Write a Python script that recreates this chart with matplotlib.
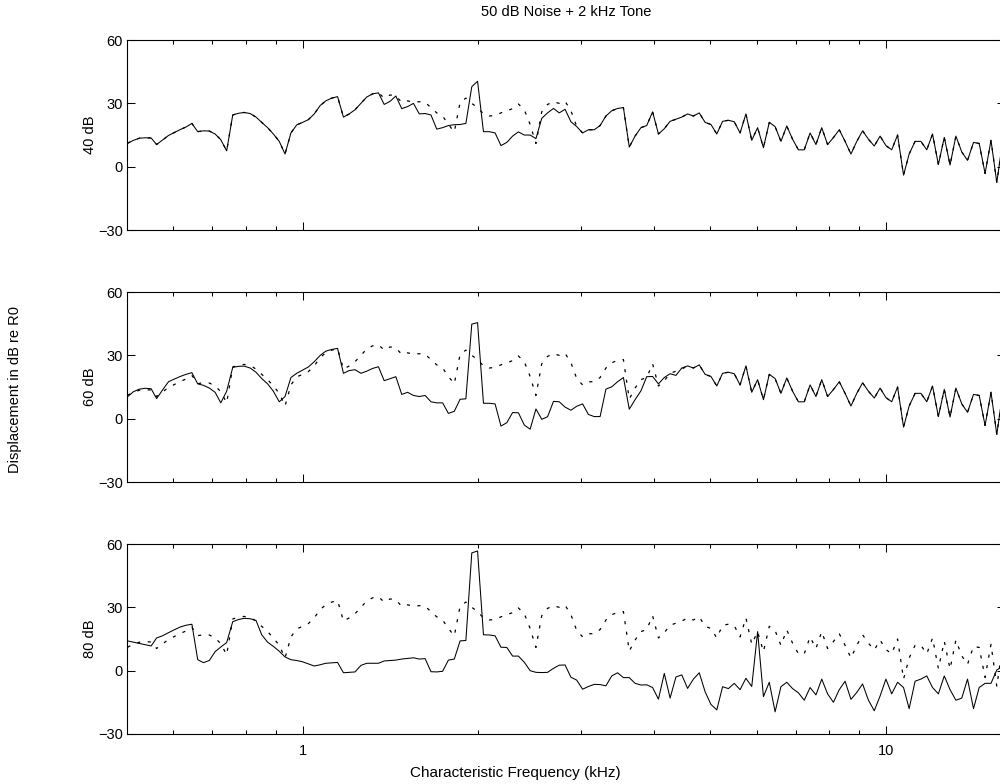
import matplotlib
matplotlib.use('Agg')
import matplotlib.pyplot as plt
from matplotlib.ticker import FixedLocator, NullFormatter

plt.rcParams['font.family'] = ['Liberation Sans', 'DejaVu Sans']
plt.rcParams['font.size'] = 10.5

# -----------------------------------------------------------------
# Donnees (CF en kHz, deplacement en dB re R0)
# -----------------------------------------------------------------
cf = [0.501, 0.513, 0.525, 0.537, 0.550, 0.562, 0.575, 0.589, 0.603, 0.617,
      0.631, 0.646, 0.661, 0.676, 0.692, 0.708, 0.724, 0.741, 0.759, 0.776,
      0.794, 0.813, 0.832, 0.851, 0.871, 0.891, 0.912, 0.933, 0.955, 0.977,
      1.000, 1.023, 1.047, 1.072, 1.096, 1.122, 1.148, 1.175, 1.202, 1.230,
      1.259, 1.288, 1.318, 1.349, 1.380, 1.413, 1.445, 1.479, 1.514, 1.549,
      1.585, 1.622, 1.660, 1.698, 1.738, 1.778, 1.820, 1.862, 1.905, 1.950,
      1.995, 2.042, 2.089, 2.138, 2.188, 2.239, 2.291, 2.344, 2.399, 2.455,
      2.512, 2.570, 2.630, 2.692, 2.754, 2.818, 2.884, 2.951, 3.020, 3.090,
      3.162, 3.236, 3.311, 3.388, 3.467, 3.548, 3.631, 3.715, 3.802, 3.890,
      3.981, 4.074, 4.169, 4.266, 4.365, 4.467, 4.571, 4.677, 4.786, 4.898,
      5.012, 5.129, 5.248, 5.370, 5.495, 5.623, 5.754, 5.888, 6.026, 6.166,
      6.310, 6.457, 6.607, 6.761, 6.918, 7.079, 7.244, 7.413, 7.586, 7.762,
      7.943, 8.128, 8.318, 8.511, 8.710, 8.913, 9.120, 9.333, 9.550, 9.772,
      10.00, 10.23, 10.47, 10.72, 10.96, 11.22, 11.48, 11.75, 12.02, 12.30,
      12.59, 12.88, 13.18, 13.49, 13.80, 14.13, 14.45, 14.79, 15.14, 15.49,
      15.85]

# bruit seul (trait pointille, identique dans les 3 panneaux)
noise = [11.1, 12.5, 13.5, 13.7, 13.6, 10.5, 12.6, 14.8, 16.2, 17.6,
         18.8, 20.5, 16.6, 17.0, 16.9, 15.5, 12.8, 7.5, 24.5, 25.3,
         25.7, 25.2, 23.5, 21.0, 18.5, 15.5, 12.0, 6.0, 16.0, 19.8,
         21.0, 22.3, 25.0, 29.0, 31.2, 32.5, 33.2, 23.5, 25.0, 27.0,
         30.0, 33.0, 34.5, 35.0, 32.5, 34.0, 33.5, 30.5, 31.2, 30.5,
         30.8, 30.5, 28.0, 25.5, 24.0, 20.0, 16.5, 30.5, 32.5, 30.0,
         28.0, 25.0, 24.0, 24.3, 25.5, 26.5, 27.5, 29.7, 27.0, 20.0,
         11.0, 26.0, 29.5, 30.8, 30.0, 31.0, 26.5, 19.0, 16.0, 17.5,
         17.5, 19.5, 24.0, 26.5, 27.6, 28.0, 9.3, 14.5, 18.5, 19.5,
         26.0, 15.5, 18.0, 21.5, 22.5, 23.5, 25.0, 24.0, 25.5, 21.0,
         20.0, 15.5, 21.5, 22.0, 21.3, 16.0, 25.0, 12.5, 18.5, 9.0,
         21.0, 19.0, 12.0, 19.3, 13.0, 8.0, 8.0, 16.0, 10.5, 18.5,
         10.5, 13.8, 17.5, 12.0, 6.0, 12.0, 17.0, 13.0, 9.8, 14.5,
         10.0, 8.0, 15.0, -4.0, 6.0, 12.0, 12.0, 8.0, 15.5, 1.0,
         13.9, 0.8, 14.5, 7.0, 3.0, 11.5, 11.0, -3.2, 12.5, -7.5,
         12.0]

# bruit + ton 40 dB : ne differe du bruit seul qu'entre ~1.4 et ~2.9 kHz
tone40_mid = [29.5, 31.0, 33.5, 27.5, 28.5, 30.0, 25.0, 25.2, 24.5, 17.8,
              18.5, 19.5, 19.9, 20.0, 20.5, 37.9, 40.5, 16.6, 16.6, 16.0,
              10.0, 11.5, 14.5, 16.5, 15.0, 15.0, 13.3, 22.9, 25.5, 27.6,
              25.5, 27.2, 21.3]
tone40 = noise[:44] + tone40_mid + noise[77:]

# bruit + ton 60 dB : rejoint le bruit seul au-dessus de ~4.5 kHz
tone60_low = [10.4, 12.8, 14.0, 14.4, 14.2, 9.5, 13.5, 17.5, 18.8, 20.0,
              21.0, 21.8, 16.5, 15.8, 14.5, 12.5, 7.5, 13.0, 24.3, 24.8,
              24.9, 24.0, 22.0, 19.0, 16.5, 13.0, 8.0, 10.5, 19.5, 21.5,
              23.0, 24.5, 27.0, 30.0, 32.0, 32.8, 33.3, 21.5, 22.8, 23.2,
              21.5, 22.5, 23.8, 24.6, 18.0, 19.0, 19.9, 11.5, 12.5, 11.0,
              10.5, 11.0, 8.0, 7.5, 7.5, 2.5, 3.5, 9.2, 9.4, 44.8,
              45.5, 7.3, 7.3, 7.0, -3.5, -1.9, 2.9, 2.8, -3.0, -5.0,
              4.6, -0.3, 0.9, 8.2, 8.0, 5.5, 4.0, 5.9, 7.0, 2.0,
              1.0, 1.0, 14.0, 15.1, 17.5, 19.5, 4.5, 9.0, 13.2, 19.9,
              20.0, 16.5, 19.5, 21.3, 20.5, 24.0]
tone60 = tone60_low + noise[96:]

# bruit + ton 80 dB
tone80 = [14.1, 13.5, 12.9, 12.3, 11.7, 15.5, 16.5, 18.0, 19.4, 20.7,
          21.5, 22.0, 5.2, 3.8, 4.8, 9.0, 11.2, 13.3, 23.2, 24.2,
          24.8, 24.6, 23.8, 17.0, 13.5, 11.5, 9.2, 6.5, 5.2, 4.8,
          4.2, 3.2, 2.2, 2.8, 3.5, 3.7, 3.9, -1.0, -0.8, -0.6,
          2.5, 3.5, 3.5, 3.5, 4.6, 4.8, 5.0, 5.5, 5.8, 6.1,
          5.5, 5.7, -0.5, -0.6, -0.3, 5.0, 5.5, 14.1, 14.3, 55.8,
          56.7, 17.0, 16.9, 16.5, 11.1, 11.0, 6.9, 6.9, 4.0, 0.0,
          -0.8, -0.9, -0.8, 1.1, 2.6, 2.7, -3.1, -4.5, -8.8, -7.5,
          -6.5, -6.6, -7.2, -2.5, -1.0, -3.3, -3.3, -6.0, -6.8, -6.7,
          -8.0, -13.5, -1.3, -13.0, -3.0, -2.0, -8.4, -4.0, -1.0, -10.0,
          -16.0, -18.6, -7.6, -8.5, -6.0, -9.0, -3.6, -7.5, 18.5, -12.3,
          -5.5, -19.5, -7.6, -5.5, -8.5, -10.5, -14.0, -8.0, -11.5, -4.0,
          -11.0, -15.0, -9.0, -5.0, -13.6, -10.3, -6.3, -14.0, -19.0, -12.0,
          -4.0, -11.0, -5.5, -8.0, -18.0, -5.0, -4.0, -2.5, -8.0, -11.0,
          -2.5, -9.0, -14.0, -13.0, -4.0, -18.0, -8.0, -6.0, -6.0, 0.3,
          2.0]

panel_labels = ['40 dB', '60 dB', '80 dB']
y_ticks = [-30, 0, 30, 60]
x_major = [1, 10]
x_minor = [0.6, 0.7, 0.8, 0.9, 2, 3, 4, 5, 6, 7, 8, 9]

# -----------------------------------------------------------------
# Figure
# -----------------------------------------------------------------
fig = plt.figure(figsize=(10, 7.84), dpi=100)
bottoms = [0.7066, 0.3852, 0.0638]

for k, (solid, lab, bottom) in enumerate(zip([tone40, tone60, tone80],
                                             panel_labels, bottoms)):
    ax = fig.add_axes([0.127, bottom, 0.878, 0.2423])
    # pointille facon MATLAB ':' : petits traits espaces
    ax.semilogx(cf, noise, color='k', lw=0.9, linestyle=(0, (2.5, 6)))
    ax.semilogx(cf, solid, color='k', lw=0.75)
    ax.set_xlim(0.5, 16)
    ax.set_ylim(-30, 60)
    ax.set_yticks(y_ticks)
    ax.xaxis.set_major_locator(FixedLocator(x_major))
    ax.xaxis.set_minor_locator(FixedLocator(x_minor))
    ax.xaxis.set_minor_formatter(NullFormatter())
    ax.set_xticklabels(['1', '10'])
    ax.tick_params(which='both', direction='in', top=True, right=True)
    ax.tick_params(which='major', length=6, width=0.75)
    ax.tick_params(which='minor', length=3, width=0.75)
    ax.tick_params(axis='y', pad=3)
    ax.tick_params(axis='x', pad=7)
    if k < 2:
        ax.tick_params(axis='x', labelbottom=False)
    for sp in ax.spines.values():
        sp.set_linewidth(0.8)
    ax.set_ylabel(lab)
    ax.yaxis.set_label_coords(-0.034, 0.5)

fig.text(0.566, 0.9847, '50 dB Noise + 2 kHz Tone', ha='center', va='center')
fig.text(0.515, 0.014, 'Characteristic Frequency (kHz)', ha='center',
         va='center', fontsize=11)
fig.text(0.015, 0.5026, 'Displacement in dB re R0', rotation=90,
         ha='center', va='center')

fig.savefig('out.png', dpi=100)
plt.close(fig)
